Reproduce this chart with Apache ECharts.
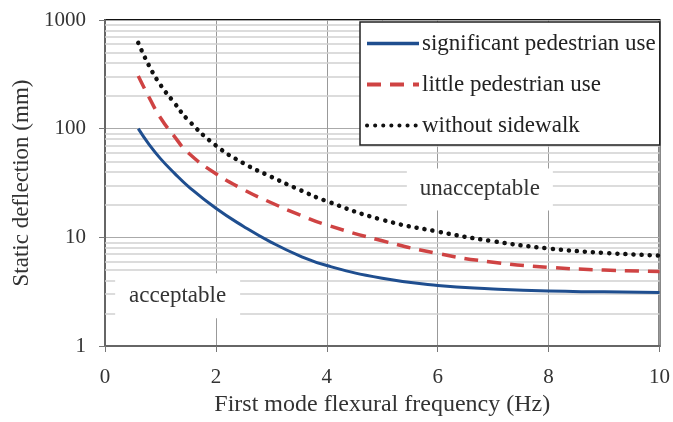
<!DOCTYPE html>
<html>
<head>
<meta charset="utf-8">
<script src="https://cdn.jsdelivr.net/npm/echarts@6/dist/echarts.min.js"></script>
<style>
  html, body { margin: 0; padding: 0; background: #fff; }
  #chart { width: 673px; height: 422px; }
</style>
</head>
<body>
<div id="chart"></div>
<script>
// frequency (Hz)
var freq = [0.6, 0.8, 1, 1.25, 1.5, 2, 2.5, 3, 3.5, 4, 5, 6, 7, 8, 9, 10];
// static deflection (mm)
var significantUse = [100, 71, 53, 39, 29.5, 18.5, 12.6, 9.0, 6.8, 5.5, 4.2, 3.6, 3.35, 3.2, 3.15, 3.1];
var littleUse      = [305, 192, 126, 85, 60, 38.5, 27.5, 20.8, 16.2, 13, 9.3, 7.1, 5.9, 5.3, 5.0, 4.85];
var noSidewalk     = [615, 375, 253, 173, 120, 70, 48, 36, 27.5, 21.5, 14.5, 11.3, 9.2, 7.9, 7.2, 6.8];

var seriesNames = ['significant pedestrian use', 'little pedestrian use', 'without sidewalk'];
var minorGrid = [2, 3, 4, 5, 6, 7, 8, 9, 20, 30, 40, 50, 60, 70, 80, 90, 200, 300, 400, 500, 600, 700, 800, 900];

// region labels
var regionText = ['unacceptable', 'acceptable'];
var regionX = [6.76, 1.31];
var regionY = [27.6, 2.9];

var serif = '"Liberation Serif", "Times New Roman", serif';

function pairs(ys) {
    var out = [];
    for (var i = 0; i < freq.length; i++) out.push([freq[i], ys[i]]);
    return out;
}

var myChart = echarts.init(document.getElementById('chart'));

var option = {
    animation: false,
    backgroundColor: '#fff',
    textStyle: { fontFamily: serif },
    grid: {
        left: 105, right: 13, top: 20, bottom: 74,
        show: true,
        borderColor: '#111',
        borderWidth: 2
    },
    legend: {
        orient: 'vertical',
        left: 360,
        top: 22,
        padding: [10, 4, 8, 5],
        itemGap: 18,
        itemWidth: 52,
        itemHeight: 16,
        backgroundColor: '#fff',
        borderColor: '#222',
        borderWidth: 1.5,
        itemStyle: { opacity: 0 },
        textStyle: { fontFamily: serif, fontSize: 23, color: '#222', padding: [0, 0, 0, -2] },
        data: [
            { name: seriesNames[0], lineStyle: { width: 3.5 } },
            { name: seriesNames[1], lineStyle: { width: 4 } },
            { name: seriesNames[2], lineStyle: { width: 4 } }
        ]
    },
    xAxis: {
        type: 'value',
        min: 0, max: 10, interval: 2,
        name: 'First mode flexural frequency (Hz)',
        nameLocation: 'middle',
        nameGap: 47,
        nameTextStyle: { fontFamily: serif, fontSize: 24, color: '#333' },
        axisLine: { lineStyle: { color: '#666', width: 2 } },
        axisTick: { show: true, length: 6, lineStyle: { color: '#777' } },
        axisLabel: { fontFamily: serif, fontSize: 21, color: '#333', margin: 21 },
        splitLine: { show: true, lineStyle: { color: '#999', width: 1 } }
    },
    yAxis: {
        type: 'log',
        logBase: 10,
        min: 1, max: 1000,
        name: 'Static deflection (mm)',
        nameLocation: 'middle',
        nameGap: 68,
        nameTextStyle: { fontFamily: serif, fontSize: 23, color: '#333' },
        axisLine: { show: true, lineStyle: { color: '#666', width: 2 } },
        axisTick: { show: true, length: 6, lineStyle: { color: '#777' } },
        axisLabel: {
            fontFamily: serif, fontSize: 21, color: '#333', margin: 19,
            formatter: function (v) { return String(v); }
        },
        splitLine: { show: true, lineStyle: { color: '#aaa', width: 1 } }
    },
    series: [
        {
            name: seriesNames[0],
            type: 'line',
            symbol: 'none',
            smooth: true,
            data: pairs(significantUse),
            lineStyle: { color: '#1f4e8f', width: 3 },
            itemStyle: { color: '#1f4e8f' },
            z: 5,
            markLine: {
                silent: true,
                symbol: 'none',
                label: { show: false },
                lineStyle: { color: '#d0d0d0', width: 1.5, type: 'solid' },
                data: minorGrid.map(function (v) { return { yAxis: v }; }),
                z: 1
            }
        },
        {
            name: seriesNames[1],
            type: 'line',
            symbol: 'none',
            smooth: true,
            data: pairs(littleUse),
            lineStyle: { color: '#cf4343', width: 3.5, type: [14, 9] },
            itemStyle: { color: '#cf4343' },
            z: 5
        },
        {
            name: seriesNames[2],
            type: 'line',
            symbol: 'none',
            smooth: true,
            data: pairs(noSidewalk),
            lineStyle: { color: '#111', width: 4.5, type: [0.1, 8], cap: 'round' },
            itemStyle: { color: '#111' },
            z: 5,
            markPoint: {
                silent: true,
                symbol: 'rect',
                itemStyle: { color: '#fff' },
                label: {
                    show: true,
                    position: 'inside',
                    formatter: '{b}',
                    fontFamily: serif,
                    fontSize: 23,
                    color: '#333'
                },
                data: [
                    { name: regionText[0], coord: [regionX[0], regionY[0]], symbolSize: [146, 42] },
                    { name: regionText[1], coord: [regionX[1], regionY[1]], symbolSize: [125, 45] }
                ]
            }
        }
    ]
};

myChart.setOption(option);
</script>
</body>
</html>
